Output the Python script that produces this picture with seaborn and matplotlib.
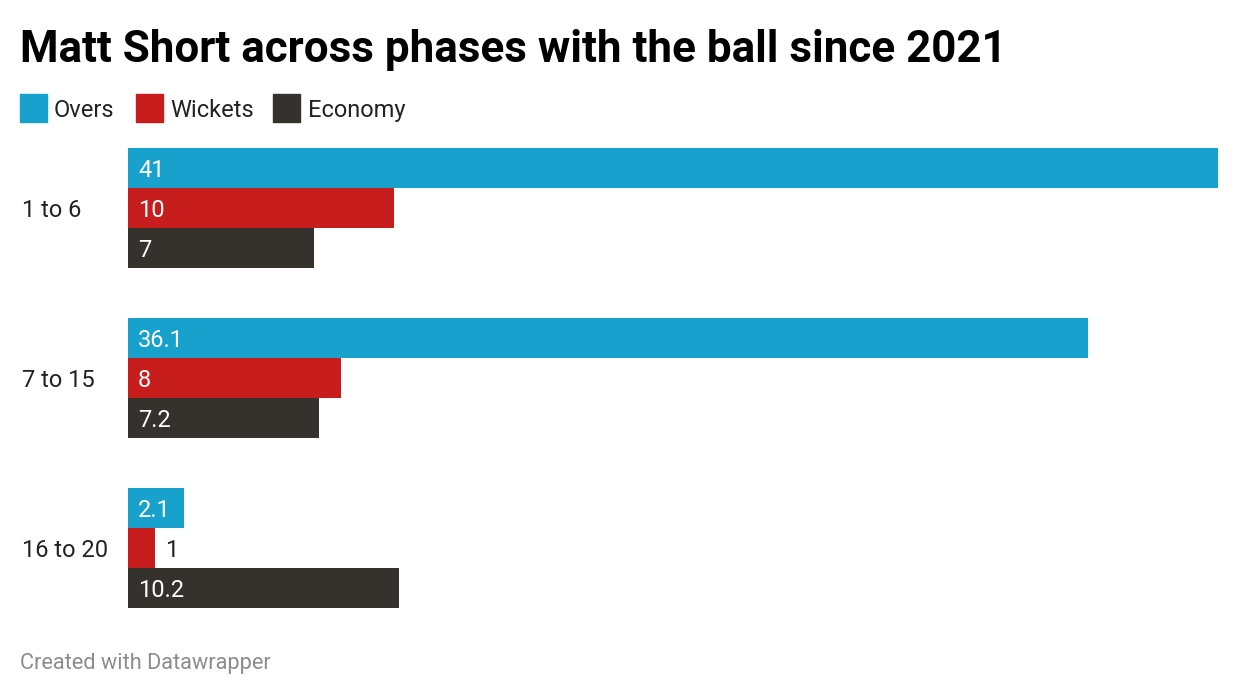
import matplotlib
matplotlib.use("Agg")
import matplotlib.pyplot as plt
from matplotlib.patches import Rectangle
import seaborn as sns
import pandas as pd

phases = ["1 to 6", "7 to 15", "16 to 20"]
metrics = ["Overs", "Wickets", "Economy"]
overs = [41, 36.1, 2.1]
wickets = [10, 8, 1]
economy = [7, 7.2, 10.2]
labels_overs = ["41", "36.1", "2.1"]
labels_wickets = ["10", "8", "1"]
labels_economy = ["7", "7.2", "10.2"]

colors = {"Overs": "#18a1cd", "Wickets": "#c71e1d", "Economy": "#35322d"}

rows = []
for i, p in enumerate(phases):
    rows.append((p, "Overs", overs[i], labels_overs[i]))
    rows.append((p, "Wickets", wickets[i], labels_wickets[i]))
    rows.append((p, "Economy", economy[i], labels_economy[i]))
df = pd.DataFrame(rows, columns=["phase", "metric", "value", "label"])

sns.set_theme(style="white")
plt.rcParams["font.family"] = ["Roboto", "DejaVu Sans"]

W, H = 1240, 696
fig = plt.figure(figsize=(W / 100, H / 100), dpi=100)
fig.patch.set_facecolor("white")

left, right, top, bottom = 128, 1218, 148, 608
ax = fig.add_axes([left / W, 1 - bottom / H, (right - left) / W, (bottom - top) / H])

width = 120 / 170
sns.barplot(data=df, y="phase", x="value", hue="metric", order=phases,
            hue_order=metrics, palette=colors, orient="h", width=width,
            gap=0, dodge=True, legend=False, ax=ax, saturation=1,
            err_kws={"linewidth": 0}, linewidth=0)

ax.set_xlim(0, 41)
ax.set_ylim(2 + width / 2, -width / 2)
ax.set_xlabel("")
ax.set_ylabel("")
ax.set_xticks([])
ax.set_yticks([])
for s in ax.spines.values():
    s.set_visible(False)
ax.patch.set_alpha(0)

LBL = 17
# value labels
lab_map = {"Overs": labels_overs, "Wickets": labels_wickets, "Economy": labels_economy}
for m, cont in zip(metrics, ax.containers):
    for j, patch in enumerate(cont.patches):
        w = patch.get_width()
        yc = patch.get_y() + patch.get_height() / 2
        txt = lab_map[m][j]
        bar_px = w * (right - left) / 41
        if bar_px > len(txt) * 12 + 18:
            ax.annotate(txt, (0, yc), xytext=(10 * 0.72, 0), textcoords="offset points",
                        ha="left", va="center_baseline", color="white", fontsize=LBL)
        else:
            ax.annotate(txt, (w, yc), xytext=(10 * 0.72, 0), textcoords="offset points",
                        ha="left", va="center_baseline", color="#222222", fontsize=LBL)

# category labels
for i, p in enumerate(phases):
    ycat = top + 60 + i * 170
    fig.text(22 / W, 1 - ycat / H, p, ha="left", va="center_baseline",
             fontsize=LBL, color="#222222")

# title
fig.text(20 / W, 1 - 62 / H, "Matt Short across phases with the ball since 2021",
         ha="left", va="baseline", fontsize=31.7, fontweight="bold", color="#000000")

# legend
leg = [("Overs", 20, 54), ("Wickets", 136, 170), ("Economy", 273, 308)]
for name, bx, tx in leg:
    fig.patches.append(Rectangle((bx / W, 1 - 122 / H), 27 / W, 28 / H,
                                 transform=fig.transFigure, color=colors[name]))
    fig.text(tx / W, 1 - 108 / H, name, ha="left", va="center_baseline",
             fontsize=LBL, color="#222222")

# footer
fig.text(20 / W, 1 - 661 / H, "Created with Datawrapper", ha="left",
         va="center_baseline", fontsize=15.7, color="#8c8c8c")

fig.savefig("out.png", dpi=100, facecolor="white")
